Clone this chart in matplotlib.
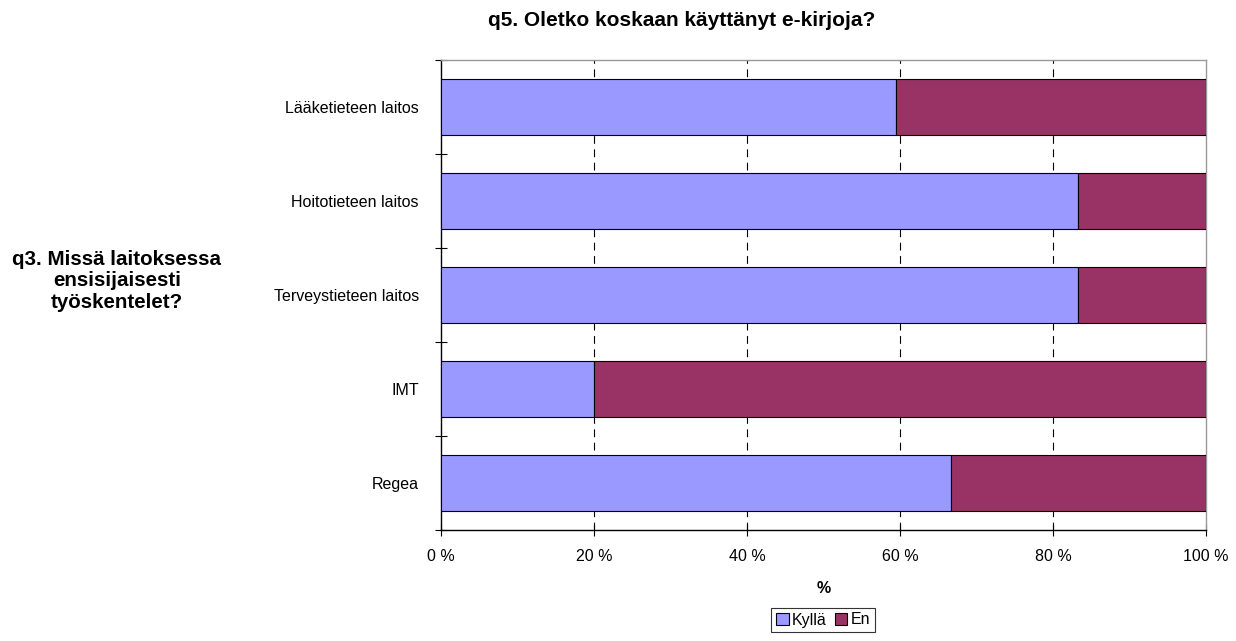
import matplotlib
matplotlib.use("Agg")
import matplotlib.pyplot as plt
from matplotlib.ticker import FixedLocator, NullFormatter

categories = ["Lääketieteen laitos", "Hoitotieteen laitos", "Terveystieteen laitos", "IMT", "Regea"]
kylla = [59.5, 83.3, 83.3, 20.0, 66.7]
en = [40.5, 16.7, 16.7, 80.0, 33.3]
xticks = [0, 20, 40, 60, 80, 100]
xticklabels = ["0 %", "20 %", "40 %", "60 %", "80 %", "100 %"]

plt.rcParams['font.family'] = ['Liberation Sans', 'DejaVu Sans']

fig = plt.figure(figsize=(12.36, 6.41), dpi=100)
ax = fig.add_axes([441/1236, 1-530/641, (1206-441)/1236, (530-60)/641])

ypos = list(range(len(categories)))
ax.barh(ypos, kylla, height=0.6, color="#9999FF", edgecolor="black", linewidth=0.8, label="Kyllä", zorder=3)
ax.barh(ypos, en, left=kylla, height=0.6, color="#993366", edgecolor="black", linewidth=0.8, label="En", zorder=3)

ax.set_xlim(0, 100)
ax.set_ylim(len(categories)-0.5, -0.5)
ax.set_yticks(ypos)
ax.set_yticklabels(categories, fontsize=11.5)
ax.yaxis.set_minor_locator(FixedLocator([i-0.5 for i in range(len(categories)+1)]))
ax.yaxis.set_minor_formatter(NullFormatter())
ax.tick_params(axis='y', which='major', length=0, pad=16)
ax.tick_params(axis='y', which='minor', length=8, direction='inout', width=0.8)
ax.set_xticks(xticks)
ax.set_xticklabels(xticklabels, fontsize=11.5)
ax.tick_params(axis='x', length=8, direction='inout', width=0.8, pad=10)

for x in xticks[1:-1]:
    ax.axvline(x, color="black", linestyle=(0, (7, 5)), linewidth=0.8, zorder=1)

for s in ['top', 'right']:
    ax.spines[s].set_color('#999999')
    ax.spines[s].set_linewidth(1.0)
for s in ['left', 'bottom']:
    ax.spines[s].set_color('black')
    ax.spines[s].set_linewidth(1.0)

ax.set_xlabel("%", fontsize=11.5, fontweight='bold', labelpad=12)
fig.text(682/1236, 1-20/641, "q5. Oletko koskaan käyttänyt e-kirjoja?",
         ha='center', va='center', fontsize=15, fontweight='bold')
fig.text(117/1236, 1-281/641, "q3. Missä laitoksessa\nensisijaisesti\ntyöskentelet?",
         ha='center', va='center', fontsize=14.8, fontweight='bold', linespacing=1.15)

leg = fig.legend(loc='center', bbox_to_anchor=(823/1236, 1-620/641), ncol=2, fontsize=11.5,
                 frameon=True, fancybox=False, edgecolor='black', handlelength=0.8, handleheight=0.8,
                 handletextpad=0.2, columnspacing=0.5, borderpad=0.3, borderaxespad=0)
leg.get_frame().set_linewidth(0.8)

fig.savefig("out.png", dpi=100)
